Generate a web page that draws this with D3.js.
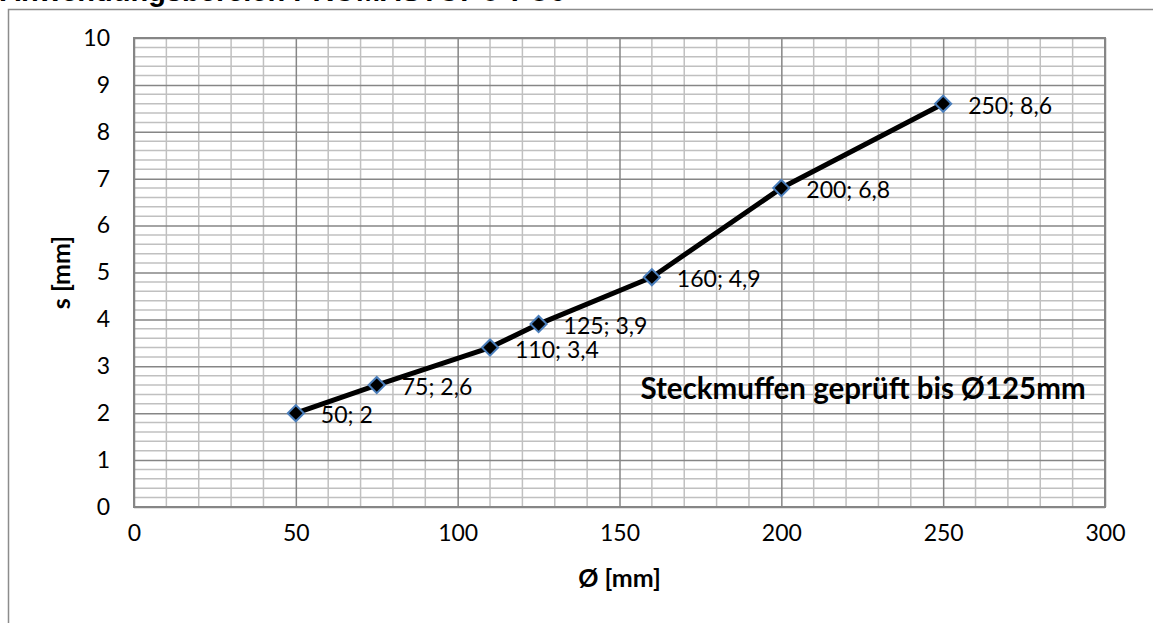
<!DOCTYPE html>
<html>
<head>
<meta charset="utf-8">
<script src="https://cdn.jsdelivr.net/npm/d3@7"></script>
<style>
  body { margin: 0; background: #fff; }
  svg text { font-family: Lato, "Open Sans", sans-serif; fill: #000; }
</style>
</head>
<body>
<svg id="chart" width="1153" height="623"></svg>
<script>
// Daten
const diameters = [50, 75, 110, 125, 160, 200, 250];
const thickness = [2, 2.6, 3.4, 3.9, 4.9, 6.8, 8.6];
const xTicks = [0, 50, 100, 150, 200, 250, 300];
const yTicks = [0, 1, 2, 3, 4, 5, 6, 7, 8, 9, 10];

const title = "Anwendungsbereich PROMASTOP®-FC6";
const xAxisLabel = "Ø [mm]";
const yAxisLabel = "s [mm]";
const note = "Steckmuffen geprüft bis Ø125mm";

const svg = d3.select('#chart');
const margin = {top: 38, right: 48, bottom: 116, left: 134};
const width = +svg.attr('width');
const height = +svg.attr('height');
const innerWidth = width - margin.left - margin.right;
const innerHeight = height - margin.top - margin.bottom;

const data = diameters.map((d, i) => ({x: d, y: thickness[i]}));

// Rahmen des Diagramms
svg.append('path')
    .attr('d', `M8.5,${height} V9.5 H${width}`)
    .attr('fill', 'none')
    .attr('stroke', '#8c8c8c')
    .attr('stroke-width', 1.5);

// Titel (oben abgeschnitten wie im Original)
svg.append('text')
    .attr('x', 0)
    .attr('y', 1)
    .style('font-family', '"Liberation Sans", Arial, sans-serif')
    .style('font-weight', 'bold')
    .style('font-size', '29px')
    .text(title);

const xScale = d3.scaleLinear().domain([0, 300]).range([0, innerWidth]);
const yScale = d3.scaleLinear().domain([0, 10]).range([innerHeight, 0]);

const g = svg.append('g')
    .attr('transform', `translate(${margin.left}, ${margin.top})`);

// Hilfslinien
g.selectAll('.minorX')
    .data(d3.range(0, 301, 10).filter(v => v % 50 !== 0))
    .enter().append('line')
    .attr('x1', d => xScale(d)).attr('x2', d => xScale(d))
    .attr('y1', 0).attr('y2', innerHeight)
    .attr('stroke', '#c0c0c0').attr('stroke-width', 1.5);

g.selectAll('.minorY')
    .data(d3.range(0, 50).map(v => v / 5).filter((v, i) => i % 5 !== 0))
    .enter().append('line')
    .attr('x1', 0).attr('x2', innerWidth)
    .attr('y1', d => yScale(d)).attr('y2', d => yScale(d))
    .attr('stroke', '#c0c0c0').attr('stroke-width', 1.5);

const xAxis = d3.axisBottom(xScale)
    .tickValues(xTicks)
    .tickSize(-innerHeight)
    .tickPadding(18);

const yAxis = d3.axisLeft(yScale)
    .tickValues(yTicks)
    .tickSize(-innerWidth)
    .tickPadding(24);

const xAxisG = g.append('g')
    .attr('transform', `translate(0, ${innerHeight})`)
    .call(xAxis);
const yAxisG = g.append('g').call(yAxis);

[xAxisG, yAxisG].forEach(ax => {
    ax.select('.domain').remove();
    ax.selectAll('.tick line').attr('stroke', '#868686').attr('stroke-width', 1.5);
    ax.selectAll('.tick text').style('font-size', '23px');
});

g.append('rect')
    .attr('width', innerWidth)
    .attr('height', innerHeight)
    .attr('fill', 'none')
    .attr('stroke', '#868686')
    .attr('stroke-width', 2);

// Achsentitel
g.append('text')
    .attr('x', innerWidth / 2)
    .attr('y', innerHeight + 80)
    .attr('text-anchor', 'middle')
    .style('font-weight', 'bold')
    .style('font-size', '25px')
    .text(xAxisLabel);

g.append('text')
    .attr('transform', 'rotate(-90)')
    .attr('x', -innerHeight / 2)
    .attr('y', -64)
    .attr('text-anchor', 'middle')
    .style('font-weight', 'bold')
    .style('font-size', '25px')
    .text(yAxisLabel);

// Linie
const lineGenerator = d3.line()
    .x(d => xScale(d.x))
    .y(d => yScale(d.y));

g.append('path')
    .attr('d', lineGenerator(data))
    .attr('fill', 'none')
    .attr('stroke', '#000')
    .attr('stroke-width', 5)
    .attr('stroke-linejoin', 'round');

g.selectAll('.marker')
    .data(data)
    .enter().append('path')
    .attr('transform', d => `translate(${xScale(d.x)}, ${yScale(d.y)}) rotate(45)`)
    .attr('d', d3.symbol(d3.symbolSquare, 130)())
    .attr('fill', '#000')
    .attr('stroke', '#4a7ebb')
    .attr('stroke-width', 2);

g.selectAll('.label')
    .data(data)
    .enter().append('text')
    .attr('x', d => xScale(d.x) + 25)
    .attr('y', d => yScale(d.y) + 10)
    .style('font-size', '23px')
    .text(d => `${d.x}; ${String(d.y).replace('.', ',')}`);

g.append('text')
    .attr('x', xScale(175) - 60)
    .attr('y', yScale(2.4) + 5)
    .style('font-weight', 'bold')
    .style('font-size', '29.5px')
    .text(note);
</script>
</body>
</html>
